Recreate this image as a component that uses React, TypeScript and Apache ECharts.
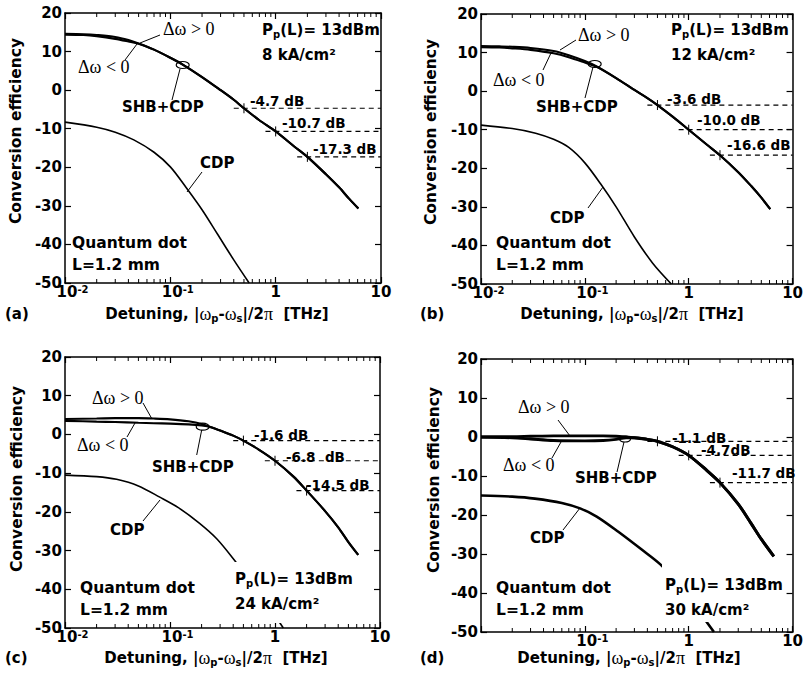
import React, { useEffect, useRef } from "react";
import * as echarts from "echarts";

type Pt = [number, number];

// ---------------- data ----------------
const panelTags = ["(a)", "(b)", "(c)", "(d)"];
const currentDensity = ["8 kA/cm²", "12 kA/cm²", "24 kA/cm²", "30 kA/cm²"];
const pumpPower = "13dBm";
const deviceLines = ["Quantum dot", "L=1.2 mm"];
const yTicksMin = -50;
const yTicksMax = 20;
const yTickStep = 10;
const xMin = 0.01;
const xMax = 10;
const minorTickValues = [
  0.02, 0.03, 0.04, 0.05, 0.06, 0.07, 0.08, 0.09,
  0.2, 0.3, 0.4, 0.5, 0.6, 0.7, 0.8, 0.9,
  2, 3, 4, 5, 6, 7, 8, 9,
];
const markFrequencies = [0.5, 1, 2];

// (a) 8 kA/cm2
const mainUpA: Pt[] = [[0.01, 14.6], [0.015, 14.5], [0.02, 14.3], [0.03, 13.8], [0.04, 13.0], [0.05, 12.1], [0.07, 10.5], [0.1, 8.4], [0.13, 6.7], [0.2, 3.4], [0.3, 0.0], [0.4, -2.5], [0.5, -4.7], [0.7, -7.8], [1, -10.7], [1.5, -14.6], [2, -17.3], [3, -21.8], [4, -25.2], [5, -28.2], [6.1, -30.7]];
const mainDnA: Pt[] = [[0.01, 14.4], [0.015, 14.3], [0.02, 14.0], [0.03, 13.3], [0.04, 12.6], [0.05, 12.0], [0.07, 10.5], [0.1, 8.4], [0.13, 6.7], [0.2, 3.4], [0.3, 0.0], [0.4, -2.5], [0.5, -4.7], [0.7, -7.8], [1, -10.7], [1.5, -14.6], [2, -17.3], [3, -21.8], [4, -25.2], [5, -28.2], [6.1, -30.7]];
const cdpA: Pt[] = [[0.01, -8.3], [0.02, -9.6], [0.03, -10.9], [0.045, -12.9], [0.07, -16.1], [0.1, -19.9], [0.14, -25.1], [0.2, -31.0], [0.28, -37.3], [0.4, -44.0], [0.56, -50]];
const levelsA = [-4.7, -10.7, -17.3];
const levelLabelsA = ["-4.7 dB", "-10.7 dB", "-17.3 dB"];

// (b) 12 kA/cm2
const mainUpB: Pt[] = [[0.01, 11.7], [0.015, 11.6], [0.02, 11.5], [0.03, 11.2], [0.05, 10.4], [0.07, 9.3], [0.1, 7.8], [0.13, 6.4], [0.2, 3.4], [0.3, 0.3], [0.4, -1.8], [0.5, -3.6], [0.7, -6.6], [1, -10.0], [1.5, -13.9], [2, -16.6], [3, -21.0], [4, -24.6], [5, -27.6], [6.1, -30.6]];
const mainDnB: Pt[] = [[0.01, 11.4], [0.015, 11.3], [0.02, 11.1], [0.03, 10.7], [0.05, 9.8], [0.07, 8.8], [0.1, 7.4], [0.13, 6.3], [0.2, 3.4], [0.3, 0.3], [0.4, -1.8], [0.5, -3.6], [0.7, -6.6], [1, -10.0], [1.5, -13.9], [2, -16.6], [3, -21.0], [4, -24.6], [5, -27.6], [6.1, -30.6]];
const cdpB: Pt[] = [[0.01, -8.8], [0.02, -9.7], [0.0336, -10.9], [0.05, -12.5], [0.07, -14.6], [0.1, -18.6], [0.145, -24.4], [0.2, -30.0], [0.3, -37.8], [0.45, -44.6], [0.68, -50]];
const levelsB = [-3.6, -10.0, -16.6];
const levelLabelsB = ["-3.6 dB", "-10.0 dB", "-16.6 dB"];

// (c) 24 kA/cm2
const mainUpC: Pt[] = [[0.01, 4.0], [0.02, 4.1], [0.03, 4.2], [0.05, 4.2], [0.07, 4.1], [0.1, 3.9], [0.15, 3.4], [0.2, 2.7], [0.3, 1.0], [0.4, -0.3], [0.5, -1.6], [0.7, -3.9], [1, -6.8], [1.5, -10.9], [2, -14.5], [3, -19.8], [4, -24.0], [5, -27.8], [6.2, -31.1]];
const mainDnC: Pt[] = [[0.01, 3.5], [0.02, 3.3], [0.03, 3.2], [0.05, 3.0], [0.07, 2.9], [0.1, 2.8], [0.15, 2.6], [0.2, 2.3], [0.25, 1.8], [0.3, 1.0], [0.4, -0.3], [0.5, -1.6], [0.7, -3.9], [1, -6.8], [1.5, -10.9], [2, -14.5], [3, -19.8], [4, -24.0], [5, -27.8], [6.2, -31.1]];
const cdpC: Pt[] = [[0.01, -10.5], [0.02, -10.9], [0.031, -11.6], [0.05, -13.3], [0.08, -16.2], [0.12, -18.9], [0.19, -22.9], [0.28, -27.0], [0.42, -32.8], [0.6, -38.3], [0.85, -44.0], [1.2, -50]];
const levelsC = [-1.6, -6.8, -14.5];
const levelLabelsC = ["-1.6 dB", "-6.8  dB", "-14.5 dB"];

// (d) 30 kA/cm2
const mainUpD: Pt[] = [[0.01, 0.1], [0.02, 0.1], [0.03, 0.2], [0.05, 0.3], [0.1, 0.3], [0.15, 0.3], [0.2, 0.2], [0.25, 0.0], [0.3, -0.2], [0.4, -0.6], [0.5, -1.1], [0.7, -2.5], [1, -4.7], [1.5, -8.6], [2, -11.7], [3, -17.2], [4, -22.2], [5, -26.2], [6.6, -30.6]];
const mainDnD: Pt[] = [[0.01, -0.1], [0.02, -0.2], [0.03, -0.5], [0.05, -0.9], [0.1, -1.0], [0.15, -0.9], [0.2, -0.6], [0.25, -0.2], [0.3, -0.2], [0.4, -0.6], [0.5, -1.1], [0.7, -2.5], [1, -4.7], [1.5, -8.6], [2, -11.7], [3, -17.2], [4, -22.2], [5, -26.2], [6.6, -30.6]];
const cdpD: Pt[] = [[0.01, -15.0], [0.02, -15.3], [0.033, -15.8], [0.06, -16.9], [0.09, -18.3], [0.13, -20.4], [0.21, -24.3], [0.35, -28.8], [0.53, -32.6], [0.8, -37.6], [1.2, -44.0], [1.75, -50]];
const levelsD = [-1.1, -4.7, -11.7];
const levelLabelsD = ["-1.1 dB", "-4.7dB", "-11.7 dB"];

// ---------------- layout / style ----------------
const SANS = '"DejaVu Sans", "Liberation Sans", Arial, sans-serif';
const SERIF = '"Liberation Serif", "Times New Roman", serif';

const GRIDS = [
  { left: 65, top: 13, width: 316, height: 270 },
  { left: 481, top: 14, width: 312, height: 270 },
  { left: 65, top: 357, width: 315, height: 271 },
  { left: 481, top: 359, width: 312, height: 273 },
];
const MAIN_W = [2.1, 2.1, 2.1, 2.9];
const CDP_W = [1.6, 1.6, 1.6, 2.6];
const HIDE_FIRST_X = [false, false, false, true];

type Layout = {
  tag: [number, number];
  xname: [number, number];
  yname: [number, number];
  dwUp: [number, number];
  dwDn: [number, number];
  upLeader: number[];
  dnLeader: number[];
  ell: [number, number, number, number];
  shbLeader: number[];
  shb: [number, number];
  pp: [number, number];
  ppBox?: [number, number, number, number];
  dbPos: [number, number][];
  cdp: [number, number];
  cdpLeader: number[];
  qd: [number, number];
};

const LAYOUT: Layout[] = [
  {
    tag: [5, 314], xname: [217, 314], yname: [16, 131],
    dwUp: [163, 29], dwDn: [78, 67],
    upLeader: [160, 35, 140, 43], dnLeader: [125, 60, 137, 44],
    ell: [182.7, 65, 6.5, 3.5], shbLeader: [180, 69, 172, 100], shb: [122, 107],
    pp: [262, 30], dbPos: [[250, 101], [282, 123], [313, 149]],
    cdp: [200, 163], cdpLeader: [202, 172, 187, 192], qd: [72, 243],
  },
  {
    tag: [420, 314], xname: [632, 314], yname: [431, 132],
    dwUp: [578, 35], dwDn: [493, 80],
    upLeader: [576, 40, 560, 50], dnLeader: [543, 70, 551, 53],
    ell: [594.7, 64, 6.5, 3.5], shbLeader: [593, 67, 585, 98], shb: [536, 107],
    pp: [671, 30], dbPos: [[667, 99], [697, 120], [727, 145]],
    cdp: [550, 218], cdpLeader: [588, 208, 603, 187], qd: [496, 243],
  },
  {
    tag: [5, 658], xname: [216, 658], yname: [17, 479],
    dwUp: [92, 398], dwDn: [77, 445],
    upLeader: [143, 403, 152, 419], dnLeader: [127, 437, 135, 423],
    ell: [202.7, 426.7, 6.5, 3.5], shbLeader: [201.7, 430, 196.7, 455], shb: [152, 467],
    pp: [235, 579], ppBox: [232, 562, 124, 61], dbPos: [[254, 435], [286, 457], [306, 485]],
    cdp: [110, 530], cdpLeader: [143, 521, 160, 500], qd: [80, 588],
  },
  {
    tag: [420, 658], xname: [629, 658], yname: [434, 480],
    dwUp: [518, 407], dwDn: [503, 465],
    upLeader: [558, 420, 570, 436], dnLeader: [552, 458, 561, 442],
    ell: [625, 439, 5.5, 3], shbLeader: [624, 442, 617, 472], shb: [575, 478],
    pp: [665, 585], ppBox: [662, 564, 124, 58], dbPos: [[672, 438], [701, 450], [732, 473]],
    cdp: [530, 538], cdpLeader: [563, 530, 580, 508], qd: [496, 588],
  },
];

const panels = [
  { up: mainUpA, dn: mainDnA, cdp: cdpA, levels: levelsA, labels: levelLabelsA },
  { up: mainUpB, dn: mainDnB, cdp: cdpB, levels: levelsB, labels: levelLabelsB },
  { up: mainUpC, dn: mainDnC, cdp: cdpC, levels: levelsC, labels: levelLabelsC },
  { up: mainUpD, dn: mainDnD, cdp: cdpD, levels: levelsD, labels: levelLabelsD },
];

function textEl(x: number, y: number, text: string, font: string, extra: any = {}) {
  return {
    type: "text",
    x,
    y,
    z: 100,
    silent: true,
    style: { text, font, fill: "#000", textAlign: "left", textVerticalAlign: "middle", ...extra },
  };
}

function lineEl(c: number[], w = 1) {
  return {
    type: "line",
    z: 90,
    silent: true,
    shape: { x1: c[0], y1: c[1], x2: c[2], y2: c[3] },
    style: { stroke: "#000", lineWidth: w },
  };
}

function buildOption() {
  const xAxis: any[] = [];
  const yAxis: any[] = [];
  const series: any[] = [];
  const graphic: any[] = [];

  const axisLine = { onZero: false, lineStyle: { color: "#000", width: 1.5 } };
  const tick = { inside: true, length: 6, lineStyle: { color: "#000", width: 1.2 } };

  GRIDS.forEach((g, i) => {
    xAxis[i] = {
      type: "log", logBase: 10, gridIndex: i, min: xMin, max: xMax, position: "bottom",
      axisLine, axisTick: tick, splitLine: { show: false },
      axisLabel: {
        margin: 1,
        formatter: (v: number) => {
          const e = Math.round(Math.log10(v));
          if (e === -2 && HIDE_FIRST_X[i]) return "";
          if (e === 0) return "{b|1}";
          if (e === 1) return "{b|10}";
          return "{sp|}{b|10}{s|" + e + "}";
        },
        rich: {
          b: { fontSize: 15, fontWeight: "bold", fontFamily: SANS, color: "#000", lineHeight: 16 },
          s: { fontSize: 10, fontWeight: "bold", fontFamily: SANS, color: "#000", lineHeight: 10, verticalAlign: "top" },
          sp: { width: 15 },
        },
      },
    };
    xAxis[i + 4] = {
      type: "log", logBase: 10, gridIndex: i, min: xMin, max: xMax, position: "top",
      axisLine, axisTick: tick, axisLabel: { show: false }, splitLine: { show: false },
    };
    yAxis[i] = {
      type: "value", gridIndex: i, min: yTicksMin, max: yTicksMax, interval: yTickStep, position: "left",
      axisLine, axisTick: tick, splitLine: { show: false },
      axisLabel: { margin: 3, color: "#000", fontSize: 15, fontWeight: "bold", fontFamily: SANS },
    };
    yAxis[i + 4] = {
      type: "value", gridIndex: i, min: yTicksMin, max: yTicksMax, interval: yTickStep, position: "right",
      axisLine, axisTick: tick, axisLabel: { show: false }, splitLine: { show: false },
    };
  });

  panels.forEach((p, i) => {
    const base = { xAxisIndex: i, yAxisIndex: i, silent: true, symbol: "none", showSymbol: false, animation: false };
    series.push({ ...base, type: "line", smooth: 0.3, data: p.up, lineStyle: { color: "#000", width: MAIN_W[i] }, z: 5 });
    series.push({ ...base, type: "line", smooth: 0.3, data: p.dn, lineStyle: { color: "#000", width: MAIN_W[i] }, z: 5 });
    series.push({ ...base, type: "line", smooth: 0.3, data: p.cdp, lineStyle: { color: "#000", width: CDP_W[i] }, z: 5 });
    p.levels.forEach((lv, k) => {
      series.push({
        ...base, type: "line",
        data: [[markFrequencies[k] * 0.8, lv], [xMax, lv]],
        lineStyle: { color: "#000", width: 1.2, type: [5, 4] }, z: 4,
      });
    });
    series.push({
      type: "custom", xAxisIndex: i, yAxisIndex: i, silent: true, z: 6,
      data: p.levels.map((lv, k) => [markFrequencies[k], lv]),
      renderItem: (_params: any, api: any) => {
        const c = api.coord([api.value(0), api.value(1)]);
        return { type: "line", shape: { x1: c[0], y1: c[1] - 5, x2: c[0], y2: c[1] + 5 }, style: { stroke: "#000", lineWidth: 1 } };
      },
    });
    series.push({
      type: "custom", xAxisIndex: i, yAxisIndex: i, silent: true, z: 6, clip: false,
      data: minorTickValues.map((v) => [v, yTicksMin]),
      renderItem: (_params: any, api: any) => {
        const b = api.coord([api.value(0), yTicksMin]);
        const t = api.coord([api.value(0), yTicksMax]);
        return {
          type: "group",
          children: [
            { type: "line", shape: { x1: b[0], y1: b[1], x2: b[0], y2: b[1] - 4 }, style: { stroke: "#000", lineWidth: 1 } },
            { type: "line", shape: { x1: t[0], y1: t[1], x2: t[0], y2: t[1] + 4 }, style: { stroke: "#000", lineWidth: 1 } },
          ],
        };
      },
    });

    const L = LAYOUT[i];
    const bold15 = `bold 15px ${SANS}`;
    graphic.push(textEl(L.tag[0], L.tag[1], panelTags[i], bold15));
    graphic.push({
      type: "text", x: L.xname[0], y: L.xname[1], z: 100, silent: true,
      style: {
        text: "{t|Detuning, |}{g|ω}{u|p}{t|-}{g|ω}{u|s}{t||/2}{g|π}{t|  [THz]}",
        textAlign: "center", textVerticalAlign: "middle", fill: "#000",
        rich: {
          t: { fontSize: 15, fontWeight: "bold", fontFamily: SANS, fill: "#000", lineHeight: 18 },
          g: { fontSize: 18, fontFamily: SERIF, fill: "#000", lineHeight: 18 },
          u: { fontSize: 10, fontWeight: "bold", fontFamily: SANS, fill: "#000", lineHeight: 10, verticalAlign: "bottom" },
        },
      },
    });
    graphic.push({
      type: "text", x: L.yname[0], y: L.yname[1], rotation: Math.PI / 2, z: 100, silent: true,
      style: { text: "Conversion efficiency", font: `bold 15.5px ${SANS}`, fill: "#000", textAlign: "center", textVerticalAlign: "middle" },
    });
    const serif18 = `18px ${SERIF}`;
    graphic.push(textEl(L.dwUp[0], L.dwUp[1], "Δω > 0", serif18));
    graphic.push(textEl(L.dwDn[0], L.dwDn[1], "Δω < 0", serif18));
    graphic.push(lineEl(L.upLeader));
    graphic.push(lineEl(L.dnLeader));
    graphic.push({
      type: "ellipse", z: 90, silent: true,
      shape: { cx: L.ell[0], cy: L.ell[1], rx: L.ell[2], ry: L.ell[3] },
      style: { fill: "none", stroke: "#000", lineWidth: 1.2 },
    });
    graphic.push(lineEl(L.shbLeader));
    graphic.push(textEl(L.shb[0], L.shb[1], "SHB+CDP", bold15));
    graphic.push(lineEl(L.cdpLeader));
    graphic.push(textEl(L.cdp[0], L.cdp[1], "CDP", bold15));
    graphic.push(textEl(L.qd[0], L.qd[1], deviceLines[0], `bold 15.5px ${SANS}`));
    graphic.push(textEl(L.qd[0], L.qd[1] + 22, deviceLines[1], `bold 15.5px ${SANS}`));
    if (L.ppBox) {
      graphic.push({
        type: "rect", z: 80, silent: true,
        shape: { x: L.ppBox[0], y: L.ppBox[1], width: L.ppBox[2], height: L.ppBox[3] },
        style: { fill: "#fff" },
      });
    }
    graphic.push({
      type: "text", x: L.pp[0], y: L.pp[1], z: 100, silent: true,
      style: {
        text: "{b|P}{s|p}{b|(L)= " + pumpPower + "}",
        textAlign: "left", textVerticalAlign: "middle", fill: "#000",
        rich: {
          b: { fontSize: 15, fontWeight: "bold", fontFamily: SANS, fill: "#000", lineHeight: 18 },
          s: { fontSize: 10, fontWeight: "bold", fontFamily: SANS, fill: "#000", lineHeight: 10, verticalAlign: "bottom" },
        },
      },
    });
    graphic.push(textEl(L.pp[0], L.pp[1] + 25, currentDensity[i], bold15));
    p.labels.forEach((lab, k) => {
      graphic.push(textEl(L.dbPos[k][0], L.dbPos[k][1], lab, `bold 13.5px ${SANS}`));
    });
  });

  return {
    animation: false,
    backgroundColor: "#fff",
    grid: GRIDS.map((g) => ({ ...g, containLabel: false })),
    xAxis,
    yAxis,
    series,
    graphic: { elements: graphic },
  };
}

export default function App() {
  const ref = useRef<HTMLDivElement>(null);
  useEffect(() => {
    const chart = echarts.init(ref.current!, null, { renderer: "svg" });
    chart.setOption(buildOption() as any);
    return () => chart.dispose();
  }, []);
  return (
    <div
      ref={ref}
      style={{ position: "absolute", left: 0, top: 0, width: 806, height: 683, background: "#fff" }}
    />
  );
}
